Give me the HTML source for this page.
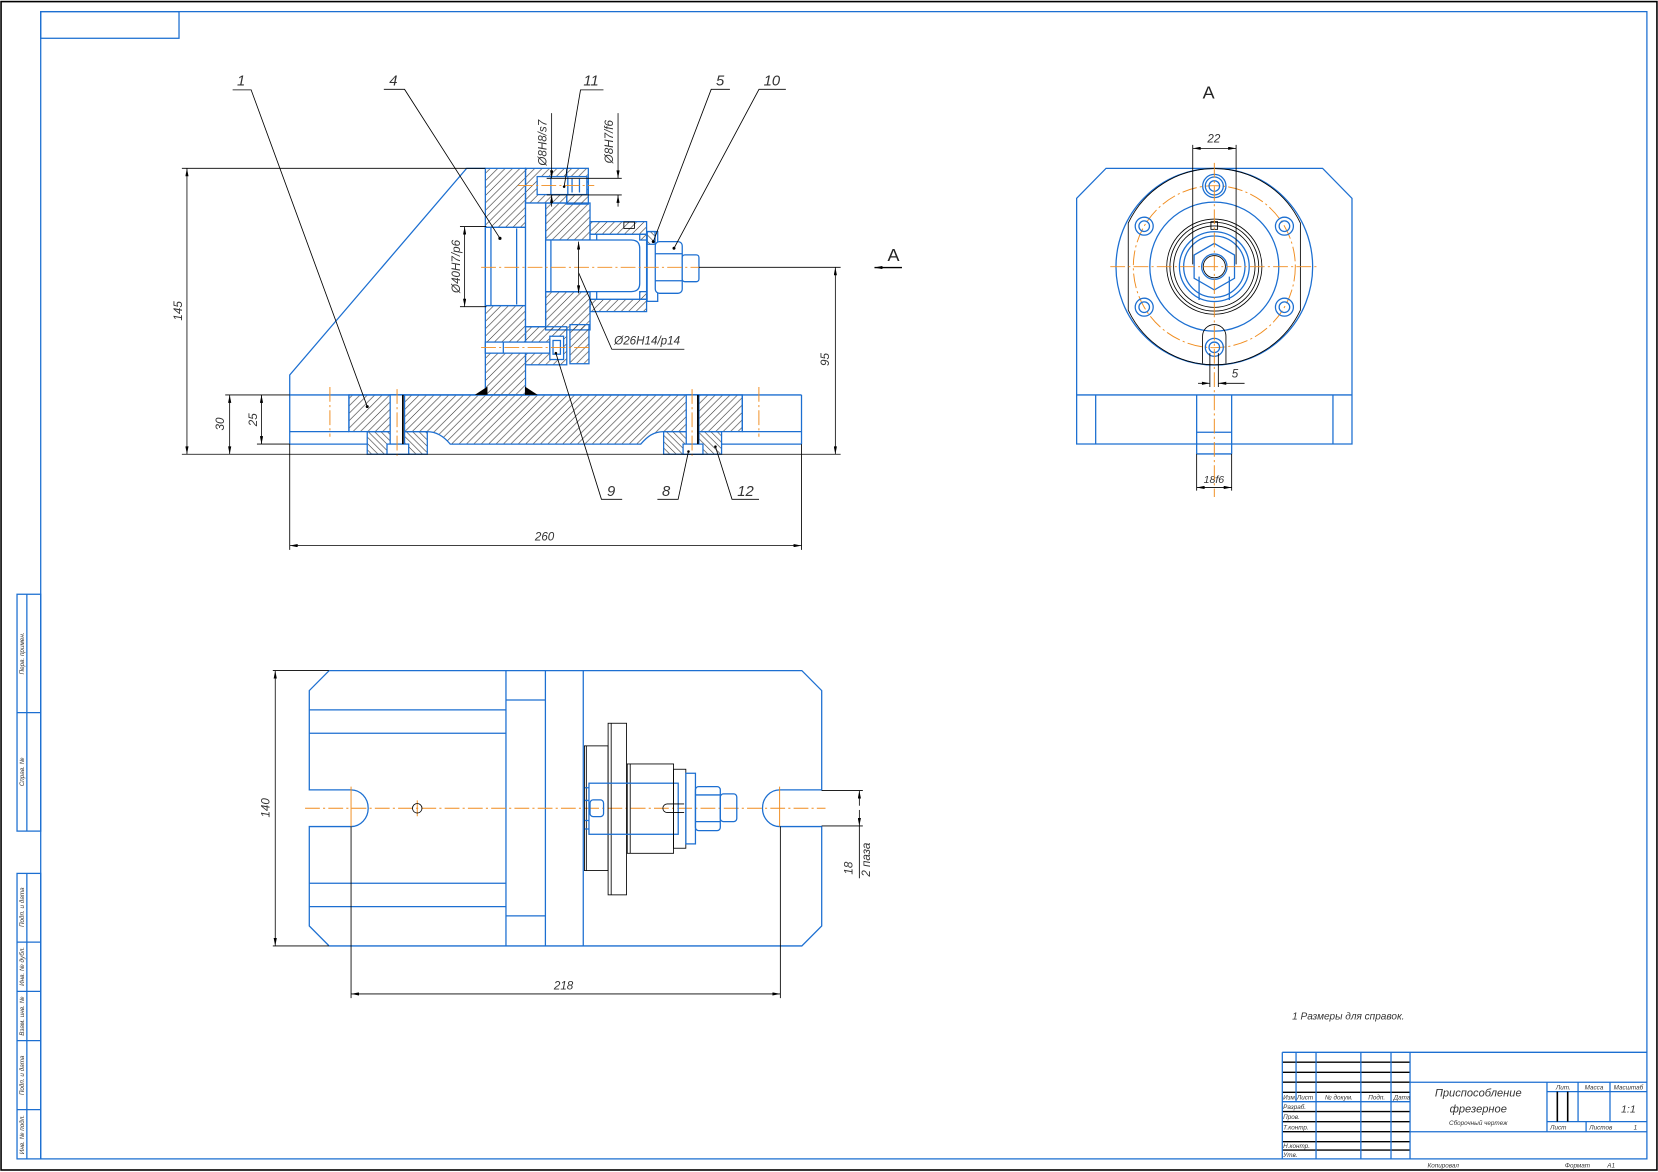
<!DOCTYPE html>
<html><head><meta charset="utf-8">
<style>
html,body{margin:0;padding:0;background:#fff;overflow:hidden}
svg{display:block}
.b{stroke:#1c6fd1;stroke-width:1.2;fill:none}
.bf{stroke:#1c6fd1;stroke-width:1.2;fill:#fff}
.bh{stroke:#1c6fd1;stroke-width:1.2;fill:url(#h1)}
.bh2{stroke:#1c6fd1;stroke-width:1.2;fill:url(#h2)}
.k{stroke:#000;stroke-width:.8;fill:none}
.kt{stroke:#000;stroke-width:1.5;fill:none}
.o{stroke:#f08c1e;stroke-width:.9;stroke-dasharray:14 3 2 3;fill:none}
.os{stroke:#f08c1e;stroke-width:.9;fill:none}
.d{stroke:#000;stroke-width:.75;fill:none;marker-start:url(#ar);marker-end:url(#ar)}
.d1{stroke:#000;stroke-width:.75;fill:none;marker-end:url(#ar)}
text{font-family:"Liberation Sans",sans-serif;font-style:italic;fill:#333}
.t{font-size:11px}
.L{font-size:14px}
.s{font-size:6px}
.u{font-style:normal;font-size:17px;fill:#222}
</style></head><body>
<svg width="1658" height="1172" viewBox="0 0 1568 1108.4" preserveAspectRatio="none" xmlns="http://www.w3.org/2000/svg">
<defs>
<pattern id="h1" width="7" height="7" patternUnits="userSpaceOnUse"><path d="M-1,1L1,-1M0,7L7,0M6,8L8,6" stroke="#222" stroke-width="0.55"/></pattern>
<pattern id="h2" width="6" height="6" patternUnits="userSpaceOnUse"><path d="M-1,5L1,7M0,0L6,6M5,-1L7,1" stroke="#222" stroke-width="0.55"/></pattern>
<marker id="ar" viewBox="0 0 10 4" refX="10" refY="2" markerWidth="9" markerHeight="3" markerUnits="userSpaceOnUse" orient="auto-start-reverse"><path d="M0,0L10,2L0,4Z" fill="#000"/></marker>
</defs>

<!-- outer frame -->
<rect x="1" y="1.5" width="1566" height="1105" fill="none" stroke="#000" stroke-width="1.5"/>
<rect x="38.5" y="11" width="1519" height="1085" class="b" stroke-width="1.4"/>
<rect x="38.5" y="11" width="130.8" height="25.2" class="b"/>

<!-- left strip -->
<rect x="16.1" y="562" width="22.4" height="224" class="b"/>
<line x1="25.4" y1="562" x2="25.4" y2="786" class="b"/>
<line x1="16.1" y1="674" x2="38.5" y2="674" class="b"/>
<rect x="16.1" y="826" width="22.4" height="270" class="b"/>
<line x1="25.4" y1="826" x2="25.4" y2="1096" class="b"/>
<path d="M16.1,891H38.5M16.1,937.6H38.5M16.1,984.2H38.5M16.1,1049.4H38.5" class="b"/>
<g class="s" text-anchor="middle">
<text transform="translate(22.5,618) rotate(-90)">Перв. примен.</text>
<text transform="translate(22.5,730) rotate(-90)">Справ. №</text>
<text transform="translate(22.5,858) rotate(-90)">Подп. и дата</text>
<text transform="translate(22.5,914) rotate(-90)">Инв. № дубл.</text>
<text transform="translate(22.5,961) rotate(-90)">Взам. инв. №</text>
<text transform="translate(22.5,1017) rotate(-90)">Подп. и дата</text>
<text transform="translate(22.5,1073) rotate(-90)">Инв. № подл.</text>
</g>

<!-- title block -->
<line x1="1212.7" y1="995.2" x2="1557.5" y2="995.2" class="b"/>
<path d="M1212.7,1004.6H1333.5M1212.7,1014.1H1333.5M1212.7,1023.5H1333.5M1212.7,1033H1333.5M1212.7,1051.3H1333.5M1212.7,1060.8H1333.5M1212.7,1070.3H1333.5M1212.7,1079.7H1333.5M1212.7,1087.6H1333.5" stroke="#000" stroke-width="1.3" fill="none"/>
<line x1="1212.7" y1="1041.9" x2="1333.5" y2="1041.9" class="b"/>
<path d="M1212.7,995.2V1096M1225.7,995.2V1041.9M1244.6,995.2V1096M1287,995.2V1096M1315.5,995.2V1096M1333.5,995.2V1096" class="b"/>
<path d="M1333.5,1023.5H1557.5M1463,1032.4H1557.5M1463,1060.8H1557.5M1333.5,1070.3H1557.5M1463,1023.5V1070.3M1492.4,1023.5V1060.8M1522.6,1023.5V1060.8M1500,1060.8V1070.3" class="b"/>
<path d="M1472.8,1032.4V1060.8M1482.6,1032.4V1060.8" stroke="#000" stroke-width="1.5"/>
<g class="s">
<text x="1213.5" y="1040">Изм.</text><text x="1226.5" y="1040">Лист</text>
<text x="1253" y="1040">№ докум.</text><text x="1294" y="1040">Подп.</text><text x="1318" y="1040">Дата</text>
<text x="1213.5" y="1049">Разраб.</text><text x="1213.5" y="1058.5">Пров.</text>
<text x="1213.5" y="1068">Т.контр.</text><text x="1213.5" y="1085.5">Н.контр.</text><text x="1213.5" y="1094">Утв.</text>
<text x="1478.5" y="1030.5" text-anchor="middle">Лит.</text>
<text x="1507.5" y="1030.5" text-anchor="middle">Масса</text>
<text x="1540" y="1030.5" text-anchor="middle">Масштаб</text>
<text x="1466" y="1068">Лист</text><text x="1503" y="1068">Листов</text><text x="1545" y="1068">1</text>
<text x="1398" y="1064" text-anchor="middle">Сборочный чертеж</text>
<text x="1350" y="1104">Копировал</text><text x="1480" y="1104">Формат</text><text x="1520" y="1104">А1</text>
</g>
<text x="1398" y="1037" text-anchor="middle" style="font-size:10.5px">Приспособление</text>
<text x="1398" y="1052" text-anchor="middle" style="font-size:10.5px">фрезерное</text>
<text x="1540" y="1052" text-anchor="middle" style="font-size:10px">1:1</text>
<text x="1222" y="964" style="font-size:9.5px">1 Размеры для справок.</text>

<!-- ================= FRONT SECTION ================= -->
<!-- gusset -->
<polyline points="274,373.5 274,354.6 441.3,159.2 459,159.2" class="b" stroke-width="1"/>
<!-- base plate -->
<path d="M330,373.5H702V408.2H627.6C618,408.2 612,413 606,420H425.8C420,413 413,408.2 404,408.2H330Z" class="bh"/>
<path d="M274,373.5H758M274,373.5V420M758,373.5V420M274,408.2H330M702,408.2H758M274,420H347.3M682.4,420H758M330,373.5V408.2M702,373.5V408.2" class="b"/>
<rect x="347.3" y="408.2" width="56.8" height="21.4" class="bh2"/>
<rect x="627.6" y="408.2" width="54.8" height="21.4" class="bh2"/>
<!-- bolts 8 -->
<rect x="369" y="373.5" width="13.6" height="46.5" class="bf"/>
<rect x="366" y="420" width="20.5" height="9.6" class="bf"/>
<line x1="381" y1="373.5" x2="381" y2="420" stroke="#000" stroke-width="1.6"/>
<rect x="649" y="373.5" width="12" height="46.5" class="bf"/>
<rect x="646" y="420" width="18.8" height="9.6" class="bf"/>
<line x1="660" y1="373.5" x2="660" y2="420" stroke="#000" stroke-width="1.6"/>
<path d="M375.5,368V433M654.5,368V433M312,366V413M717.7,366V413" class="o"/>
<!-- vertical wall -->
<rect x="459" y="159.2" width="38" height="214.3" class="bh"/>
<rect x="459" y="215" width="38" height="74" class="bf"/>
<path d="M464.3,215V289M488.6,216V288M459,215H497M459,289H497" class="b"/>
<circle cx="472.8" cy="225.4" r="1.5" fill="#000"/>
<!-- welds -->
<path d="M449,373.5L461,365.6V373.5Z M496.5,365.6V373.5H508.5Z" fill="#000"/>
<!-- ring and body -->
<rect x="497" y="159.2" width="39" height="32.8" class="bh"/>
<rect x="516" y="192" width="42" height="35" class="bh"/>
<rect x="497" y="192" width="19" height="117" class="bf"/>
<rect x="516" y="276" width="42" height="36" class="bh"/>
<rect x="497" y="309" width="39" height="36" class="bh"/>
<rect x="536" y="159.2" width="20.4" height="33.8" class="bh"/>
<rect x="539" y="307" width="18" height="37" class="bh"/>
<!-- bolt 11 -->
<rect x="508" y="167" width="47" height="17" class="bf"/>
<path d="M537,167V184M541,169V182M548,169V182M521,167V184" class="b" stroke-width=".9"/>
<line x1="490" y1="175.5" x2="562" y2="175.5" class="o"/>
<!-- screw 9 -->
<rect x="459" y="323.5" width="61" height="10.5" class="bf"/>
<line x1="476" y1="323.5" x2="476" y2="334" class="b"/>
<rect x="520" y="318" width="13" height="22" class="bf"/>
<rect x="523" y="322" width="7" height="13" class="b" stroke-width=".9"/>
<line x1="455" y1="328.7" x2="560" y2="328.7" class="o"/>
<!-- cap 5 -->
<rect x="558" y="209.6" width="53.5" height="12" class="bh"/>
<rect x="558" y="283" width="53.5" height="11.7" class="bh"/>
<rect x="558" y="221.6" width="53.5" height="61.4" class="bf"/>
<path d="M564.3,221.6V283" class="b" stroke-width=".9"/>
<path d="M516,227H597Q605,227 605,235V268Q605,275.8 597,275.8H516Z" class="bf"/>
<line x1="521" y1="227" x2="521" y2="275.8" class="b"/>
<rect x="605" y="221.6" width="6.5" height="5.4" class="bh"/>
<rect x="605" y="275.8" width="6.5" height="7.2" class="bh"/>
<!-- washer, nut 10, stud -->
<rect x="612" y="219" width="10" height="66" class="bf"/>
<rect x="612" y="219" width="7.5" height="12" class="bh2"/>
<rect x="619.7" y="228.5" width="25.5" height="48.9" rx="4" class="bf"/>
<path d="M619.7,240H645.2M619.7,265.5H645.2" class="b" stroke-width=".9"/>
<rect x="645.2" y="241" width="15.8" height="25.4" rx="2.5" class="bf"/>
<rect x="590" y="210" width="10" height="6" fill="none" stroke="#000" stroke-width=".8"/>
<line x1="455" y1="252.8" x2="662" y2="252.8" class="o"/>

<!-- front dims -->
<path d="M172,159.2H459M172,429.6H795M213,373.5H274M243,420H274M435,214.3H460M435,290H460M661,252.8H795" class="k" stroke-width=".7"/>
<line x1="176.8" y1="159.2" x2="176.8" y2="429.6" class="d"/>
<line x1="217.2" y1="373.5" x2="217.2" y2="429.6" class="d"/>
<line x1="247.3" y1="373.5" x2="247.3" y2="420" class="d"/>
<line x1="790" y1="252.8" x2="790" y2="429.6" class="d"/>
<line x1="439.4" y1="214.3" x2="439.4" y2="290" class="d"/>
<line x1="547.2" y1="228.5" x2="547.2" y2="277.4" class="d"/>
<path d="M274,420V520M758,420V520" class="k" stroke-width=".7"/>
<line x1="274" y1="516" x2="758" y2="516" class="d"/>
<text class="t" transform="translate(172,294) rotate(-90)" text-anchor="middle">145</text>
<text class="t" transform="translate(212,401) rotate(-90)" text-anchor="middle">30</text>
<text class="t" transform="translate(243,397) rotate(-90)" text-anchor="middle">25</text>
<text class="t" transform="translate(784,340) rotate(-90)" text-anchor="middle">95</text>
<text class="t" transform="translate(435,252) rotate(-90)" text-anchor="middle">Ø40H7/p6</text>
<text class="t" x="515" y="511" text-anchor="middle">260</text>
<!-- Ø8 dims -->
<path d="M517,168.6H588M517,184.4H588" class="k" stroke-width=".7"/>
<line x1="521.7" y1="107" x2="521.7" y2="168.6" class="d1"/>
<line x1="521.7" y1="195.4" x2="521.7" y2="184.4" class="d1"/>
<line x1="584.5" y1="107" x2="584.5" y2="168.6" class="d1"/>
<line x1="584.5" y1="195.4" x2="584.5" y2="184.4" class="d1"/>
<text class="t" transform="translate(517,135) rotate(-90)" text-anchor="middle">Ø8H8/s7</text>
<text class="t" transform="translate(579.5,134) rotate(-90)" text-anchor="middle">Ø8H7/f6</text>
<!-- Ø26 leader -->
<path d="M547.2,258L578.6,330.3H647.2" class="k" stroke-width=".7"/>
<text class="t" x="612" y="326" text-anchor="middle">Ø26H14/p14</text>
<!-- section arrow A -->
<line x1="853" y1="253" x2="827" y2="253" stroke="#000" stroke-width="1.3" marker-end="url(#ar)"/>
<text class="u" x="845" y="247" text-anchor="middle">A</text>

<!-- leaders -->
<g class="k" stroke-width=".7">
<path d="M220,85H237.5L347.3,384.5"/>
<path d="M363,84.5H382.6L472.8,225.4"/>
<path d="M570.7,85H549L533.5,176.5"/>
<path d="M690.3,84.5H672.6L617.8,228.5"/>
<path d="M743.2,84.5H717.8L637.4,234.8"/>
<path d="M588.4,472.2H568.8L525.7,334"/>
<path d="M621.7,472.2H641.3L651.1,427"/>
<path d="M717.8,472.2H692.3L676.6,422.4"/>
</g>
<g fill="#000"><circle cx="347.3" cy="384.5" r="1.4"/><circle cx="617.8" cy="228.5" r="1.4"/><circle cx="637.4" cy="234.8" r="1.4"/><circle cx="533.5" cy="176.5" r="1.2"/><circle cx="525.7" cy="334" r="1.2"/><circle cx="651.1" cy="427" r="1.2"/><circle cx="676.6" cy="422.4" r="1.2"/></g>
<g class="L" text-anchor="middle">
<text x="228" y="81">1</text><text x="372" y="81">4</text><text x="559" y="81">11</text>
<text x="681" y="81">5</text><text x="730" y="81">10</text>
<text x="578" y="469">9</text><text x="630" y="469">8</text><text x="705" y="469">12</text>
</g>

<!-- ================= VIEW A ================= -->
<text class="u" x="1143" y="93" text-anchor="middle">A</text>
<path d="M1018.2,187.6L1046,159.2H1250.8L1278.6,187.6V419.9H1018.2Z" class="b"/>
<path d="M1018.2,373.5H1278.6M1036.2,373.5V419.9M1260.6,373.5V419.9" class="b"/>
<path d="M1131.7,373.5V429.3M1164.8,373.5V429.3M1131.7,408.8H1164.8M1131.7,429.3H1164.8" class="b"/>
<path d="M1131.7,429.3V464M1164.8,429.3V464" class="k" stroke-width=".7"/>
<line x1="1131.7" y1="461" x2="1164.8" y2="461" class="d"/>
<text class="t" x="1148" y="457" text-anchor="middle" style="font-size:10px">18f6</text>
<circle cx="1148.4" cy="252.2" r="93" class="b"/>
<path d="M1067,211A90,90 0 0 1 1229.8,211V293.4A90,90 0 0 1 1067,293.4Z" class="k" stroke-width="1"/>
<circle cx="1148.4" cy="252.2" r="76.6" class="o"/>
<circle cx="1148.4" cy="252.2" r="61" class="b"/>
<g class="k" stroke-width="1"><circle cx="1148.4" cy="252.2" r="45"/><circle cx="1148.4" cy="252.2" r="42"/><circle cx="1148.4" cy="252.2" r="38.5"/></g>
<circle cx="1148.4" cy="252.2" r="33" class="b"/>
<circle cx="1148.4" cy="252.2" r="29" class="b"/>
<polygon points="1148.4,230.2 1167.5,241.2 1167.5,263.2 1148.4,274.2 1129.3,263.2 1129.3,241.2" class="b"/>
<circle cx="1148.4" cy="252.2" r="12" class="b"/>
<circle cx="1148.4" cy="252.2" r="10.5" class="k"/>
<rect x="1145.2" y="209.6" width="6.3" height="7.3" class="k"/>
<path d="M1134,261.6V283.7M1162.6,261.6V283.7" class="b"/>
<path d="M1137.3,343.6V318A11.05,11.05 0 0 1 1159.4,318V343.6" class="k" stroke-width="1"/>
<g class="b" stroke-width="2">
<circle cx="1148.4" cy="175.9" r="8.5"/><circle cx="1082.1" cy="213.9" r="8.5"/><circle cx="1214.7" cy="213.9" r="8.5"/>
<circle cx="1082.1" cy="290.5" r="8.5"/><circle cx="1214.7" cy="290.5" r="8.5"/><circle cx="1148.4" cy="328.5" r="8.5"/>
</g>
<g class="b" stroke-width="1.2">
<circle cx="1148.4" cy="175.9" r="5"/><circle cx="1082.1" cy="213.9" r="5"/><circle cx="1214.7" cy="213.9" r="5"/>
<circle cx="1082.1" cy="290.5" r="5"/><circle cx="1214.7" cy="290.5" r="5"/><circle cx="1148.4" cy="328.5" r="5"/>
</g>
<circle cx="1148.4" cy="175.9" r="11" class="b" stroke-width=".8"/>
<path d="M1148.4,154V470M1050,252.2H1247" class="o"/>
<path d="M1128,137V250M1169,137V250" class="k" stroke-width=".8"/>
<line x1="1128" y1="140.3" x2="1169" y2="140.3" class="d"/>
<text class="t" x="1148" y="135" text-anchor="middle">22</text>
<path d="M1144.2,334V366M1152.2,334V366" class="k" stroke-width=".8"/>
<line x1="1133" y1="362.5" x2="1144.2" y2="362.5" class="d1"/>
<line x1="1177" y1="362.5" x2="1152.2" y2="362.5" class="d1"/>
<text class="t" x="1168" y="357" text-anchor="middle">5</text>

<!-- ================= PLAN VIEW ================= -->
<path d="M311.3,634.2H758.3L777.1,653.1V747H737.3A16.2,17.35 0 0 0 737.3,781.7H777.1V875.7L758.3,894.6H311.3L292.5,875.7V781.7H332A16.2,17.35 0 0 0 332,747H292.5V653.1Z" class="b"/>
<path d="M292.5,671.4H478.5M292.5,693.5H478.5M292.5,835.3H478.5M292.5,857.4H478.5M478.5,634.2V894.6M515.8,634.2V894.6M551.6,634.2V894.6M478.5,662H515.8M478.5,866.2H515.8" class="b"/>
<line x1="288.5" y1="764.4" x2="780.7" y2="764.4" class="o"/>
<path d="M332,743.9V781.7M737.3,743.9V781.7M394.6,757V772" class="os"/>
<circle cx="394.6" cy="764.4" r="4.5" class="k"/>
<!-- assembly -->
<rect x="552.7" y="705.4" width="22.4" height="117.9" class="k" stroke-width="1"/>
<line x1="554.5" y1="705.4" x2="554.5" y2="823.3" class="k"/>
<rect x="575.1" y="684" width="17.4" height="162.3" class="k" stroke-width="1"/>
<line x1="578" y1="684" x2="578" y2="846.3" class="k"/>
<rect x="593.2" y="722.5" width="43.8" height="84.5" class="k" stroke-width="1"/>
<line x1="596" y1="722.5" x2="596" y2="807" class="k"/>
<rect x="557" y="740.7" width="84.4" height="48.3" class="b"/>
<path d="M553,745H557M553,757H557M553,776H557M553,784H557" class="b"/>
<rect x="637" y="727.5" width="11.6" height="74.7" class="k" stroke-width="1"/>
<rect x="648.6" y="731.3" width="9.1" height="66.8" class="b"/>
<rect x="657.7" y="743.9" width="23.5" height="41.6" rx="3" class="b"/>
<path d="M657.7,751.8H681.2M657.7,777H681.2" class="b"/>
<rect x="681.2" y="750.8" width="15.6" height="26.2" rx="3" class="b"/>
<rect x="558" y="756.5" width="12.8" height="15.8" rx="3" class="b"/>
<path d="M647,760.3H631A4.1,4.1 0 0 0 631,768.5H647" class="k" stroke-width=".9"/>
<!-- plan dims -->
<path d="M258,634.2H311M258,894.6H311M332,781.7V944M738,781.7V944M777,747.7H816M777,781.1H816" class="k" stroke-width=".7"/>
<line x1="260.3" y1="634.2" x2="260.3" y2="894.6" class="d"/>
<line x1="332" y1="940" x2="738" y2="940" class="d"/>
<line x1="812.7" y1="830.6" x2="812.7" y2="781.1" class="k" stroke-width=".75"/>
<line x1="812.7" y1="762" x2="812.7" y2="747.7" class="d1"/>
<line x1="812.7" y1="766" x2="812.7" y2="781.1" class="d1"/>
<text class="t" transform="translate(255,764) rotate(-90)" text-anchor="middle">140</text>
<text class="t" x="533" y="936" text-anchor="middle">218</text>
<text class="t" transform="translate(806,821) rotate(-90)" text-anchor="middle">18</text>
<text class="t" transform="translate(823,813) rotate(-90)" text-anchor="middle">2 паза</text>
</svg>
</body></html>
